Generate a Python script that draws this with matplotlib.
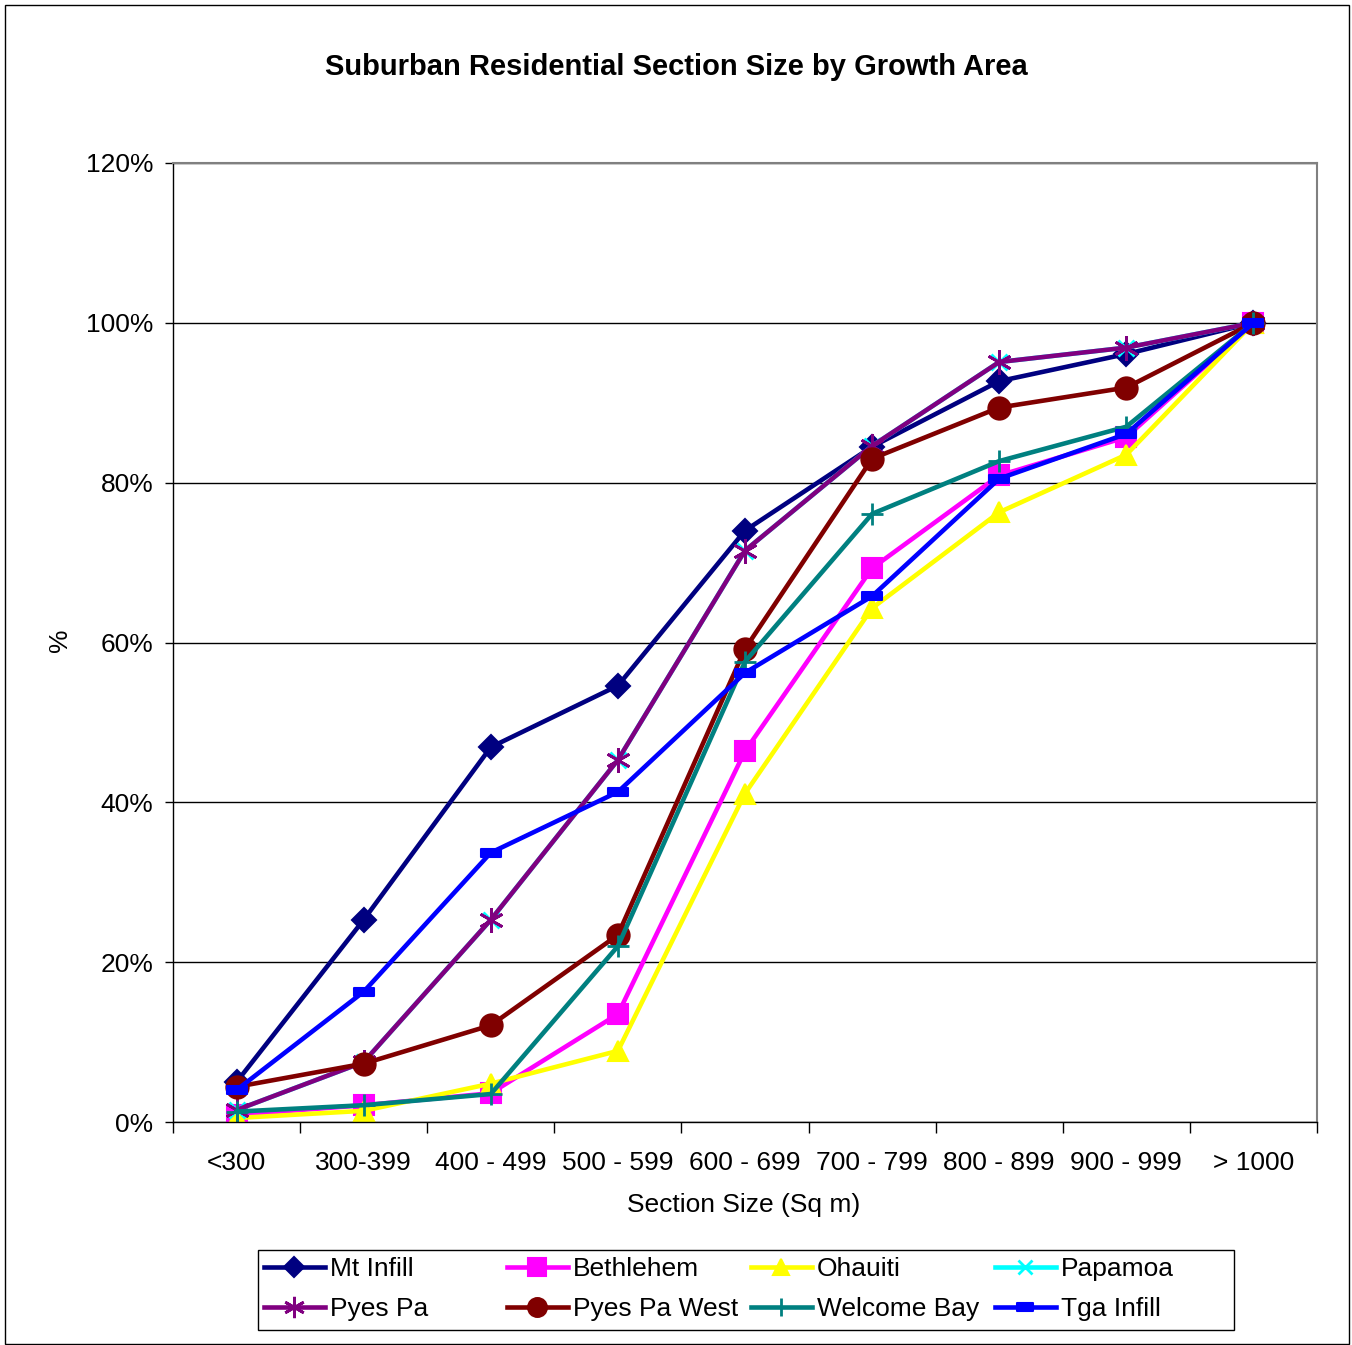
import matplotlib
matplotlib.use("Agg")
import matplotlib.pyplot as plt
from matplotlib.patches import Rectangle
from matplotlib.path import Path
from matplotlib.ticker import FixedLocator, NullFormatter

plt.rcParams['font.family'] = ['Liberation Sans', 'DejaVu Sans']

categories = ['<300', '300-399', '400 - 499', '500 - 599', '600 - 699',
              '700 - 799', '800 - 899', '900 - 999', '> 1000']

mt_infill = [5.0, 25.3, 46.9, 54.6, 74.0, 84.5, 92.7, 96.1, 100.0]
bethlehem = [0.9, 2.1, 3.6, 13.5, 46.4, 69.3, 80.9, 85.7, 100.0]
ohauiti = [0.5, 1.4, 4.8, 8.9, 41.1, 64.3, 76.3, 83.5, 100.0]
papamoa = [1.5, 7.5, 25.3, 45.3, 71.5, 84.6, 95.1, 96.9, 100.0]
pyes_pa = [1.5, 7.5, 25.3, 45.3, 71.5, 84.6, 95.1, 96.9, 100.0]
pyes_pa_west = [4.4, 7.3, 12.1, 23.4, 59.2, 83.0, 89.4, 91.9, 100.0]
welcome_bay = [1.3, 2.1, 3.5, 22.0, 57.6, 76.1, 82.7, 87.0, 100.0]
tga_infill = [4.0, 16.3, 33.7, 41.3, 56.2, 65.8, 80.5, 86.1, 100.0]

y_ticks = [0, 20, 40, 60, 80, 100, 120]

dash_marker = Path([(-1, -0.45), (1, -0.45), (1, 0.45), (-1, 0.45), (-1, -0.45)],
                   [Path.MOVETO, Path.LINETO, Path.LINETO, Path.LINETO, Path.CLOSEPOLY])

series = [
    ('Mt Infill', mt_infill, '#000080', 'D', 12),
    ('Bethlehem', bethlehem, '#FF00FF', 's', 15),
    ('Ohauiti', ohauiti, '#FFFF00', '^', 14),
    ('Papamoa', papamoa, '#00FFFF', 'x', 12),
    ('Pyes Pa', pyes_pa, '#800080', (6, 2, 0), 18),
    ('Pyes Pa West', pyes_pa_west, '#800000', 'o', 16),
    ('Welcome Bay', welcome_bay, '#008080', '+', 16),
    ('Tga Infill', tga_infill, '#0000FF', dash_marker, 14),
]

W, H = 1352, 1345
fig = plt.figure(figsize=(W / 100, H / 100), dpi=100)
fig.patch.set_facecolor('white')
fig.add_artist(Rectangle((5 / W, 1 / H), (1349 - 5) / W, (1340 - 1) / H,
                         transform=fig.transFigure, fill=False,
                         edgecolor='black', linewidth=1.0))

left, right, top, bottom = 173, 1317, 163, 1122
ax = fig.add_axes([left / W, 1 - bottom / H, (right - left) / W, (bottom - top) / H])

x = list(range(len(categories)))
handles = {}
for name, vals, color, marker, ms in series:
    kw = dict(markeredgewidth=1.5)
    if marker in ('x', '+') or isinstance(marker, tuple):
        kw['markeredgewidth'] = 2.0
    ln, = ax.plot(x, vals, color=color, linewidth=3.3, marker=marker,
                  markersize=ms, markerfacecolor=color, markeredgecolor=color,
                  label=name, solid_joinstyle='round', **kw)
    handles[name] = ln

ax.set_xlim(-0.5, len(categories) - 0.5)
ax.set_ylim(0, 120)
ax.yaxis.set_major_locator(FixedLocator(y_ticks))
ax.set_yticklabels([f'{v}%' for v in y_ticks])
ax.yaxis.grid(True, color='black', linewidth=1.0)
ax.set_axisbelow(True)

ax.set_xticks(x)
ax.set_xticklabels(categories)
ax.xaxis.set_minor_locator(FixedLocator([i - 0.5 for i in range(len(categories) + 1)]))
ax.xaxis.set_minor_formatter(NullFormatter())
ax.tick_params(axis='x', which='major', length=0, labelsize=19, pad=21)
ax.tick_params(axis='x', which='minor', length=8, width=1.0, direction='out')
ax.tick_params(axis='y', which='major', length=6, width=1.0, direction='out', labelsize=19, pad=8)

for side in ('top', 'right'):
    ax.spines[side].set_color('#808080')
    ax.spines[side].set_linewidth(1.5)
for side in ('left', 'bottom'):
    ax.spines[side].set_color('black')
    ax.spines[side].set_linewidth(1.0)

fig.text(744 / W, 1 - 1205 / H, 'Section Size (Sq m)', fontsize=19, ha='center', va='center')
fig.text(60 / W, 1 - 640 / H, '%', rotation=90, fontsize=19, ha='center', va='center')

fig.text(676 / W, 1 - 67 / H, 'Suburban Residential Section Size by Growth Area',
         fontsize=21, fontweight='bold', ha='center', va='center')

# Legend: a framed box with four equal-width columns, two entries each
fig.add_artist(Rectangle((258 / W, 1 - 1330 / H), (1234 - 258) / W, 80 / H,
                         transform=fig.transFigure, fill=False,
                         edgecolor='black', linewidth=1.0))
columns = [('Mt Infill', 'Pyes Pa'), ('Bethlehem', 'Pyes Pa West'),
           ('Ohauiti', 'Welcome Bay'), ('Papamoa', 'Tga Infill')]
col_x = [264, 507, 751, 995]
for cx, names in zip(col_x, columns):
    leg = fig.legend([handles[n] for n in names], list(names), ncol=1,
                     loc='center left', bbox_to_anchor=(cx / W, 1 - 1289 / H),
                     fontsize=19, frameon=False, handlelength=2.3,
                     handletextpad=0.2, labelspacing=0.6, borderpad=0.0,
                     borderaxespad=0.0, markerscale=0.85)

fig.savefig('out.png', dpi=100, facecolor='white')
